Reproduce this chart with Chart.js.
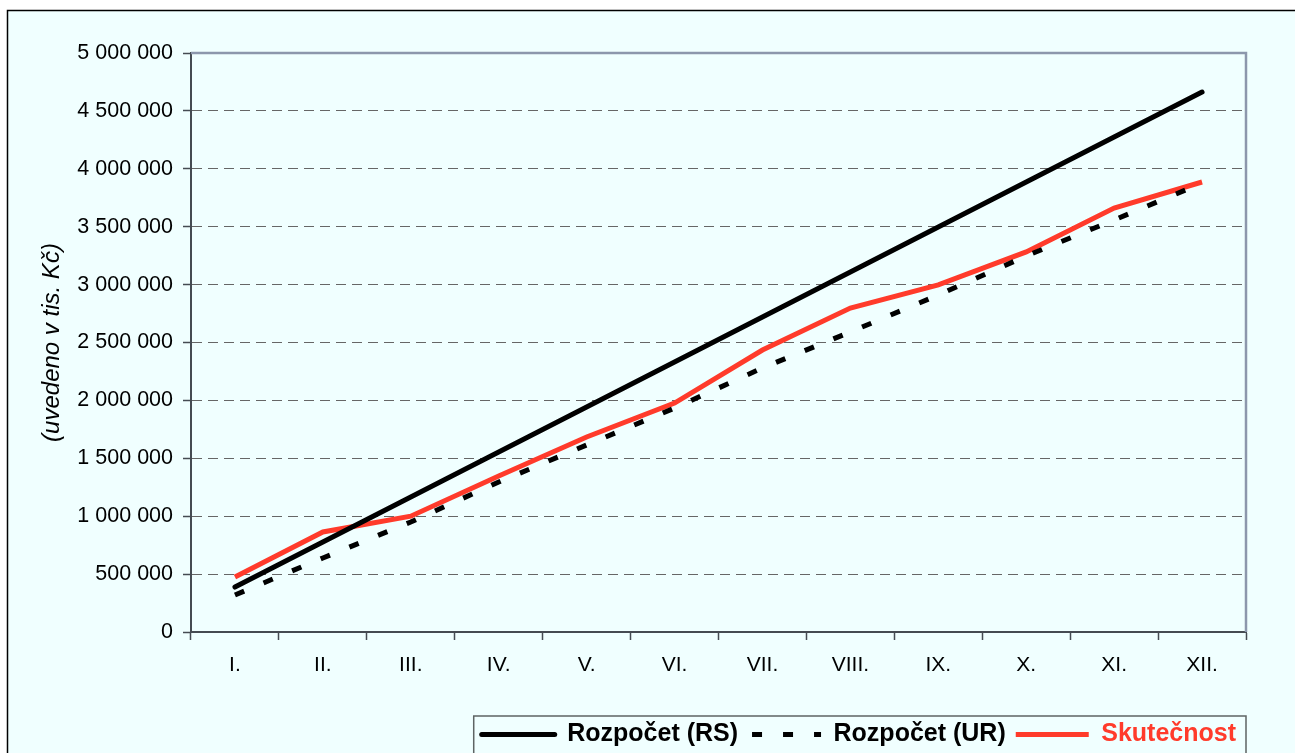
<!DOCTYPE html>
<html>
<head>
<meta charset="utf-8">
<script src="https://cdn.jsdelivr.net/npm/chart.js@4.4.1/dist/chart.umd.min.js"></script>
<style>
  html, body { margin: 0; padding: 0; background: #fff; }
  #wrap { width: 1295px; height: 753px; }
</style>
</head>
<body>
<div id="wrap"><canvas id="chart" width="1295" height="753"></canvas></div>
<script>
// Data (tis. Kč)
const months = ["I.", "II.", "III.", "IV.", "V.", "VI.", "VII.", "VIII.", "IX.", "X.", "XI.", "XII."]
const rozpocetRS = [388000, 777000, 1165000, 1554000, 1943000, 2331000, 2720000, 3108000, 3497000, 3886000, 4274000, 4663000]
const rozpocetUR = [320000, 639000, 950000, 1295000, 1615000, 1934000, 2280000, 2591000, 2910000, 3247000, 3558000, 3877000]
const skutecnost = [475000, 864000, 1000000, 1347000, 1684000, 1977000, 2435000, 2798000, 2997000, 3282000, 3661000, 3886000]
const yTicks = [0, 500000, 1000000, 1500000, 2000000, 2500000, 3000000, 3500000, 4000000, 4500000, 5000000]

const FONT = "'Liberation Sans', Arial, sans-serif"
const RED = "#FF3B2B"
const UR_DASH = [10, 21]

function formatCz(v) {
  return String(v).replace(/\B(?=(\d{3})+(?!\d))/g, " ")
}

// Page background, outer frame, plot frame and legend frame
const framePlugin = {
  id: "frames",
  beforeDraw(chart) {
    const ctx = chart.ctx
    ctx.save()
    ctx.fillStyle = "#ffffff"
    ctx.fillRect(0, 0, chart.width, chart.height)
    ctx.fillStyle = "#F0FFFF"
    ctx.fillRect(7, 10, chart.width, chart.height)
    ctx.strokeStyle = "#000000"
    ctx.lineWidth = 1.5
    ctx.beginPath()
    ctx.moveTo(7.5, chart.height + 5)
    ctx.lineTo(7.5, 10.5)
    ctx.lineTo(chart.width + 5, 10.5)
    ctx.stroke()
    ctx.restore()
  },
  afterDraw(chart) {
    const ctx = chart.ctx
    const a = chart.chartArea
    ctx.save()
    ctx.strokeStyle = "#8C97AC"
    ctx.lineWidth = 2.5
    ctx.beginPath()
    ctx.moveTo(a.left, a.top)
    ctx.lineTo(a.right, a.top)
    ctx.lineTo(a.right, a.bottom)
    ctx.stroke()

    const legend = chart.legend
    if (legend && legend.legendHitBoxes.length) {
      const boxes = legend.legendHitBoxes
      const left = boxes[0].left - 8
      const last = boxes[boxes.length - 1]
      const right = last.left + last.width + 10
      const top = legend.top + 4
      ctx.strokeStyle = "#5E6464"
      ctx.lineWidth = 1.5
      ctx.beginPath()
      ctx.moveTo(left, chart.height + 5)
      ctx.lineTo(left, top)
      ctx.lineTo(right, top)
      ctx.lineTo(right, chart.height + 5)
      ctx.stroke()
    }
    ctx.restore()
  },
}

new Chart(document.getElementById("chart"), {
  type: "line",
  data: {
    labels: months,
    datasets: [
      {
        label: "Rozpočet (RS)",
        data: rozpocetRS,
        borderColor: "#000000",
        backgroundColor: "#000000",
        borderWidth: 5,
        borderCapStyle: "round",
        pointRadius: 0,
        tension: 0,
      },
      {
        label: "Rozpočet (UR)",
        data: rozpocetUR,
        borderColor: "#000000",
        backgroundColor: "#000000",
        borderWidth: 5,
        borderDash: UR_DASH,
        borderCapStyle: "butt",
        pointRadius: 0,
        tension: 0,
      },
      {
        label: "Skutečnost",
        data: skutecnost,
        borderColor: RED,
        backgroundColor: RED,
        borderWidth: 5,
        borderCapStyle: "butt",
        pointRadius: 0,
        tension: 0,
      },
    ],
  },
  options: {
    responsive: false,
    animation: false,
    devicePixelRatio: 1,
    layout: { padding: { top: 53, left: 0, right: 49, bottom: -4 } },
    plugins: {
      tooltip: { enabled: false },
      legend: {
        position: "bottom",
        align: "end",
        labels: {
          usePointStyle: true,
          pointStyle: "line",
          pointStyleWidth: 73,
          padding: 10,
          color: "#000000",
          font: { family: FONT, size: 25, weight: "bold" },
          generateLabels(chart) {
            const items = Chart.defaults.plugins.legend.labels.generateLabels(chart)
            items.forEach((item) => {
              item.lineWidth = 5
            })
            items[0].lineCap = "round"
            items[1].lineDash = UR_DASH
            items[1].lineDashOffset = -4
            items[1].lineCap = "butt"
            items[2].fontColor = RED
            return items
          },
        },
      },
    },
    scales: {
      x: {
        offset: true,
        afterFit(scale) {
          scale.height = 80
        },
        grid: {
          offset: true,
          drawOnChartArea: false,
          tickLength: 8,
          tickColor: "#454B52",
          tickWidth: 1.5,
        },
        border: { color: "#454B52", width: 2 },
        ticks: {
          color: "#000000",
          padding: 13,
          maxRotation: 0,
          autoSkip: false,
          font: { family: FONT, size: 21 },
        },
      },
      y: {
        min: 0,
        max: 5000000,
        afterFit(scale) {
          scale.width = 191
        },
        afterBuildTicks(scale) {
          scale.ticks = yTicks.map((v) => ({ value: v }))
        },
        grid: {
          color: "#666666",
          lineWidth: 1,
          tickLength: 8,
          tickColor: "#454B52",
          tickWidth: 1.5,
        },
        border: { color: "#454B52", width: 2, dash: [10, 6] },
        ticks: {
          color: "#000000",
          padding: 10,
          font: { family: FONT, size: 21.5 },
          callback: (value) => formatCz(value),
        },
        title: {
          display: true,
          text: "(uvedeno v tis. Kč)",
          color: "#000000",
          padding: { top: 38, bottom: 0 },
          font: { family: FONT, size: 24, style: "italic" },
        },
      },
    },
  },
  plugins: [framePlugin],
})
</script>
</body>
</html>
